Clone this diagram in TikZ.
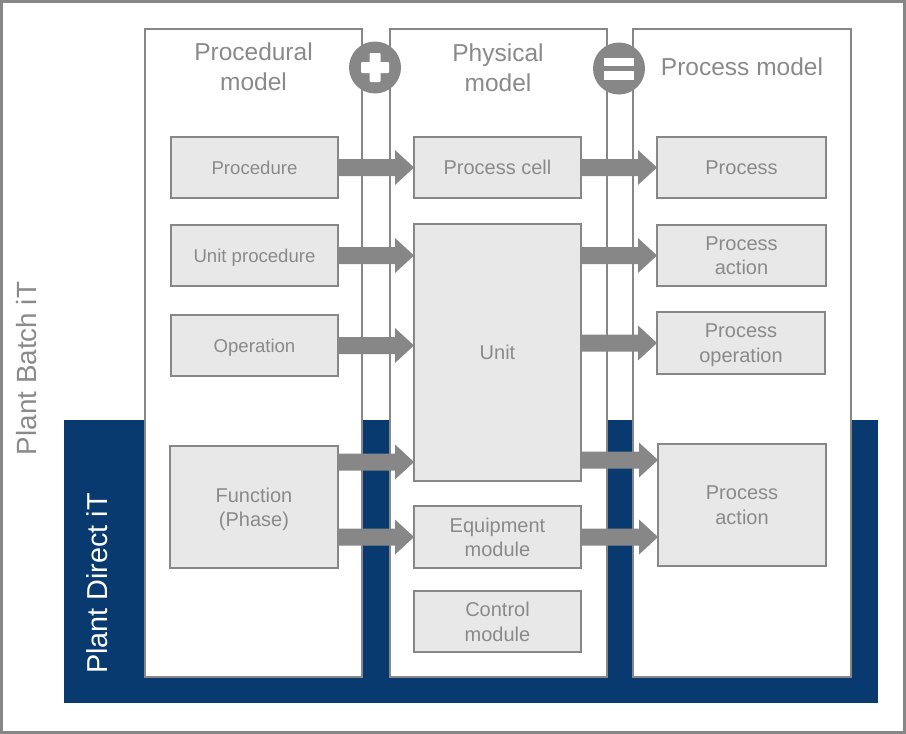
\documentclass[tikz,border=0pt]{standalone}
\usepackage{fontspec}
\setmainfont{Liberation Sans}
\usetikzlibrary{calc}
\definecolor{lgray}{HTML}{878787}
\definecolor{tgray}{HTML}{8A8A8A}
\definecolor{bfill}{HTML}{E8E8E8}
\definecolor{dblue}{HTML}{083A70}
\newcommand\blockarr[2]{%
  \fill[lgray] ($(#1)+(0,-8.5)$) -- ($(#2)+(-19,-8.5)$) -- ($(#2)+(-19,-17.5)$)
    -- (#2) -- ($(#2)+(-19,17.5)$) -- ($(#2)+(-19,8.5)$) -- ($(#1)+(0,8.5)$) -- cycle;}
\begin{document}
\begin{tikzpicture}[x=1pt,y=-1pt,
  col/.style={draw=lgray, fill=white, line width=2.5pt, minimum width=217pt, minimum height=648pt, inner sep=0pt, outer sep=0pt},
  hdr/.style={text=tgray, font=\fontsize{24.5}{30}\selectfont, align=center, inner sep=0pt, text depth=0pt},
  box/.style={draw=lgray, fill=bfill, line width=2.8pt, minimum width=167pt, minimum height=61pt, inner sep=0pt, outer sep=0pt,
    text=tgray, font=\fontsize{20}{24.5}\selectfont, align=center, text depth=0pt},
  lbox/.style={box, font=\fontsize{18.6}{22}\selectfont},
  sign/.style={circle, fill=lgray, minimum size=52pt, inner sep=0pt}]
\useasboundingbox (0,0) rectangle (906,734);
\draw[lgray, line width=3pt] (1.5,1.5) rectangle (904.5,732.5);
\fill[dblue] (64,420) rectangle (878,703);
% columns
\node[col] (c1) at (253.5,353) {};
\node[col] (c2) at (498.5,353) {};
\node[col, minimum width=218pt] (c3) at (742,353) {};
% headers
\node[hdr] (h1) at (253.5,66.8) {Procedural\\model};
\node[hdr] (h2) at (498,67.8) {Physical\\model};
\node[hdr] (h3) at (742,66.5) {Process model};
% signs
\node[sign] (plus) at (375,67.5) {};
\fill[white, rounded corners=1pt] ($(plus)+(-5.5,-14.5)$) rectangle ($(plus)+(5.5,14.5)$);
\fill[white, rounded corners=1pt] ($(plus)+(-14,-5.5)$) rectangle ($(plus)+(14,5.5)$);
\node[sign] (eq) at (619,68.5) {};
\fill[white] ($(eq)+(-15,-11)$) rectangle ($(eq)+(15,-2.3)$);
\fill[white] ($(eq)+(-15,2.3)$) rectangle ($(eq)+(15,11)$);
% procedural boxes
\node[lbox] (proc) at (254.5,167.5) {Procedure};
\node[lbox] (uproc) at (254.5,255.5) {Unit procedure};
\node[lbox] (oper) at (254.5,345.5) {Operation};
\node[box, minimum width=168pt, minimum height=122pt] (func) at (254,507) {Function\\(Phase)};
% physical boxes
\node[box] (cell) at (497.5,167.5) {Process cell};
\node[box, minimum height=257pt] (unit) at (497.5,352.5) {Unit};
\node[box, minimum height=62pt] (equip) at (497.5,537) {Equipment\\module};
\node[box] (ctrl) at (497.5,621.5) {Control\\module};
% process boxes
\node[box, minimum width=169pt] (p) at (741.5,167.5) {Process};
\node[box, minimum width=169pt] (pa1) at (741.5,255.5) {Process\\action};
\node[box, minimum width=168pt, minimum height=62pt] (po) at (741,343) {Process\\operation};
\node[box, minimum width=168pt, minimum height=122pt] (pa2) at (742,505) {Process\\action};
% side labels
\node[rotate=90, text=tgray, font=\fontsize{27.8}{30}\selectfont, inner sep=0pt, text depth=0pt] (batch) at (26.8,368.5) {Plant Batch iT};
\node[rotate=90, text=white, font=\fontsize{28.8}{30}\selectfont, inner sep=0pt, text depth=0pt] (direct) at (97.5,583.5) {Plant Direct iT};
% arrows
\coordinate (s1) at (proc.east);   \coordinate (e1) at (cell.west);
\coordinate (s2) at (uproc.east);  \coordinate (e2) at (uproc.east -| unit.west);
\coordinate (s3) at (oper.east);   \coordinate (e3) at (oper.east -| unit.west);
\coordinate (s4) at ([yshift=-16pt]func.north east); \coordinate (e4) at (s4 -| unit.west);
\coordinate (s5) at (func.east |- equip.west); \coordinate (e5) at (equip.west);
\coordinate (r1) at (cell.east);   \coordinate (f1) at (p.west);
\coordinate (r2) at (pa1.west -| unit.east); \coordinate (f2) at (pa1.west);
\coordinate (r3) at (po.west -| unit.east);  \coordinate (f3) at (po.west);
\coordinate (r4) at ([yshift=21pt]unit.south east); \coordinate (f4) at (r4 -| pa2.west);
\coordinate (r5) at (equip.east);  \coordinate (f5) at (equip.east -| pa2.west);
\blockarr{s1}{e1}
\blockarr{s2}{e2}
\blockarr{s3}{e3}
\blockarr{s4}{e4}
\blockarr{s5}{e5}
\blockarr{r1}{f1}
\blockarr{r2}{f2}
\blockarr{r3}{f3}
\blockarr{r4}{f4}
\blockarr{r5}{f5}
\end{tikzpicture}
\end{document}
